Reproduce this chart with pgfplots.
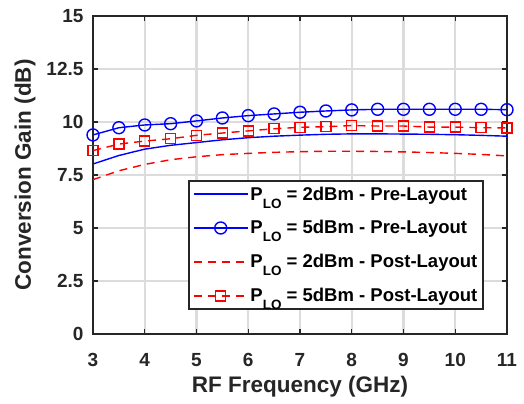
\documentclass[border=0pt]{standalone}
\usepackage{fontspec}
\setmainfont{Liberation Sans}
\usepackage{pgfplots}
\pgfplotsset{compat=1.18}
\definecolor{axgray}{RGB}{38,38,38}
\definecolor{gridgray}{RGB}{220,220,220}
\newcommand{\plo}{P\raisebox{-8pt}{\fontsize{13.5}{13.5}\selectfont LO}}
\begin{document}
\begin{tikzpicture}
\begin{axis}[
  scale only axis, width=414pt, height=318pt,
  xmin=3, xmax=11, ymin=0, ymax=15,
  xtick={3,4,5,6,7,8,9,10,11},
  xticklabels={3,4,5,6,7,8,9,10,11},
  ytick={0,2.5,5,7.5,10,12.5,15},
  yticklabels={0,2.5,5,7.5,10,12.5,15},
  tick label style={font=\fontsize{19}{19}\selectfont\bfseries, text=axgray},
  yticklabel style={xshift=-6pt},
  xticklabel style={yshift=-16pt},
  tick align=inside, major tick length=5pt,
  every tick/.style={axgray, line width=1.2pt},
  axis line style={axgray, line width=2.2pt},
  grid=major, major grid style={gridgray, line width=2.2pt},
  xlabel={RF Frequency (GHz)}, ylabel={Conversion Gain (dB)},
  label style={font=\fontsize{22.5}{22.5}\selectfont\bfseries, text=axgray},
  xlabel style={at={(axis description cs:0.5,-0.166)}, anchor=center},
  ylabel style={at={(axis description cs:-0.1643,0.5)}, anchor=center},
  legend style={at={(0.945,0.075)}, anchor=south east, draw=axgray, line width=1.8pt,
    fill=white, font=\fontsize{18.5}{18.5}\selectfont\bfseries, text=black,
    inner xsep=4pt, inner ysep=5pt, row sep=17pt,
    nodes={inner xsep=2pt, inner ysep=1pt}},
  legend cell align=left,
  legend image code/.code={\draw[mark repeat=2, mark phase=2, #1] plot coordinates {(0pt,0pt) (27pt,0pt) (54pt,0pt)};},
]
\addplot[blue, line width=1.4pt, mark=none] coordinates {
(3,8.02) (3.5,8.42) (4,8.72) (4.5,8.90) (5,9.03) (5.5,9.16) (6,9.26) (6.5,9.33) (7,9.38) (7.5,9.42) (8,9.44) (8.5,9.44) (9,9.43) (9.5,9.42) (10,9.40) (10.5,9.37) (11,9.33)};
\addlegendentry{\plo{} = 2dBm - Pre-Layout}
\addplot[blue, line width=1.4pt, mark=o, mark size=6pt, mark options={solid, line width=1.4pt}] coordinates {
(3,9.39) (3.5,9.73) (4,9.86) (4.5,9.92) (5,10.05) (5.5,10.19) (6,10.30) (6.5,10.38) (7,10.46) (7.5,10.52) (8,10.57) (8.5,10.60) (9,10.60) (9.5,10.60) (10,10.60) (10.5,10.60) (11,10.58)};
\addlegendentry{\plo{} = 5dBm - Pre-Layout}
\addplot[red, line width=1.4pt, dash pattern=on 8pt off 6pt, mark=none] coordinates {
(3,7.28) (3.5,7.70) (4,8.00) (4.5,8.22) (5,8.36) (5.5,8.46) (6,8.52) (6.5,8.57) (7,8.60) (7.5,8.62) (8,8.62) (8.5,8.61) (9,8.59) (9.5,8.56) (10,8.52) (10.5,8.47) (11,8.40)};
\addlegendentry{\plo{} = 2dBm - Post-Layout}
\addplot[red, line width=1.4pt, dash pattern=on 8pt off 6pt, mark=square, mark size=5pt, mark options={solid, line width=1.4pt}] coordinates {
(3,8.65) (3.5,8.96) (4,9.10) (4.5,9.21) (5,9.37) (5.5,9.48) (6,9.58) (6.5,9.68) (7,9.75) (7.5,9.78) (8,9.83) (8.5,9.81) (9,9.81) (9.5,9.76) (10,9.76) (10.5,9.73) (11,9.72)};
\addlegendentry{\plo{} = 5dBm - Post-Layout}
\end{axis}
\path (current axis.south west) ++(-93pt,-69pt);
\path (current axis.north east) ++(17pt,16pt);
\end{tikzpicture}
\end{document}
